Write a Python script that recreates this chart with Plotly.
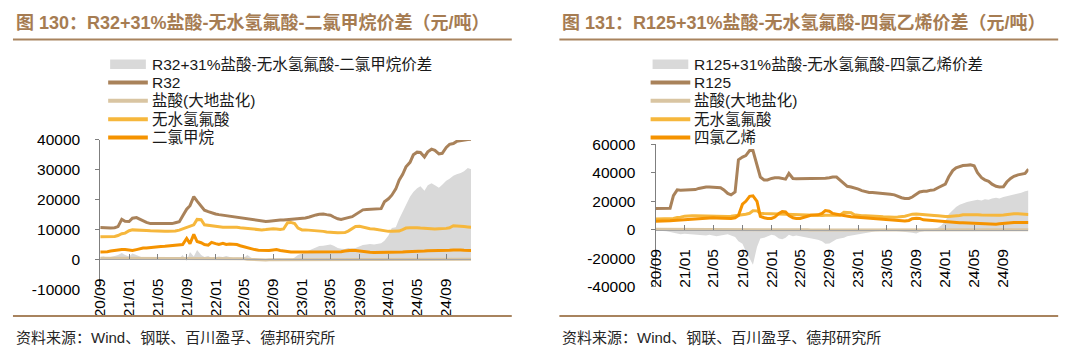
import pandas as pd
import plotly.graph_objects as go

W, H = 1080, 354

# semi-monthly observation dates (1st and 15th), Sep 2020 - Dec 2024
dates = pd.date_range("2020-09-01", "2024-12-15", freq="SMS")

# ---------------- shared raw materials (yuan/ton) ----------------
hf = [  # 无水氢氟酸
    7600, 7600, 7600, 7600, 7700, 8000, 8600, 8800,
    9600, 9900, 9900, 9900, 9800, 9700, 9600, 9500,
    9500, 9400, 9400, 9400, 9400, 9500, 9800, 10200,
    10500, 11000, 11600, 13400, 13300, 11600, 11400, 11300,
    11200, 11000, 10800, 10800, 10800, 11000, 10800, 10600,
    10500, 10300, 10100, 10000, 9900, 9900, 10000, 10200,
    10300, 10200, 10000, 10200, 12300, 12400, 12000, 10500,
    9900, 9900, 9800, 9800, 9700, 9600, 9400, 9200,
    9000, 9000, 8900, 9000, 9000, 9500, 10300, 11000,
    11100, 10800, 10500, 10300, 10200, 10000, 9800, 9500,
    9400, 9400, 9500, 9500, 10000, 10500, 10600, 10700,
    10600, 10500, 10400, 10300, 10300, 10200, 10300, 10300,
    10400, 10600, 11300, 11200, 11200, 11000, 10900, 10800]

hcl = [  # 盐酸(大地盐化)
    400, 400, 350, 350, 400, 450, 450, 400,
    400, 400, 350, 350, 300, 300, 350, 350,
    400, 400, 400, 450, 450, 400, 400, 400,
    400, 450, 450, 400, 400, 400, 350, 350,
    350, 350, 300, 300, 300, 300, 300, 250,
    200, 100, 0, -100, -100, -150, -150, -100,
    -100, -100, -100, -100, -50, -50, 0, 0,
    0, 50, 50, 50, 0, 0, 0, 50,
    50, 50, 50, 50, 100, 100, 100, 100,
    100, 100, 50, 50, 0, 0, 0, 0,
    0, 0, 50, 50, 50, 100, 100, 100,
    100, 100, 100, 100, 100, 100, 100, 100,
    100, 100, 100, 100, 100, 100, 100, 100]

# ---------------- chart 130 ----------------
r32 = [
    10700, 10600, 10500, 10500, 10600, 11000, 13400, 12800,
    12700, 13800, 14000, 13500, 12800, 12400, 12000, 12000,
    12000, 12000, 12000, 12000, 12000, 12300, 12600, 14500,
    16800, 18000, 21000, 19500, 18000, 16500, 16000, 15600,
    15200, 15000, 14800, 14700, 14500, 14200, 14000, 13800,
    13600, 13500, 13400, 13300, 13000, 12800, 12700, 12800,
    13000, 13100, 13200, 13200, 13300, 13500, 13500, 13600,
    13700, 13900, 14200, 14600, 14900, 15100, 15200, 15000,
    14800, 14200, 13600, 13400, 13600, 14000, 14300, 15000,
    15800, 16600, 16700, 16800, 16800, 16800, 17000, 19300,
    20300, 21500, 23600, 26500, 28500, 31000, 32500, 35000,
    35900, 35800, 34300, 36000, 36900, 36500, 35300, 35500,
    37500, 38500, 38800, 39500, 39800, 40000, 40100, 40200]

dcm = [  # 二氯甲烷
    2500, 2500, 2600, 2800, 3000, 3200, 3300, 3300,
    3200, 3000, 3300, 3600, 3800, 3800, 4000, 4100,
    4200, 4300, 4400, 4500, 4500, 4600, 4800, 5000,
    7000, 5300, 8400, 6000, 5600, 5000, 4800, 5700,
    5300, 5000, 5400, 5000, 5200, 5200, 5000, 4600,
    4200, 3900, 3600, 3300, 3100, 3000, 3000, 3000,
    3200, 3300, 3000, 2800, 2600, 2500, 2500, 2500,
    2500, 2500, 2500, 2600, 2600, 2500, 2500, 2500,
    2500, 2500, 2500, 2600, 2800, 3000, 3100, 3000,
    2800, 2600, 2500, 2400, 2300, 2300, 2300, 2300,
    2300, 2300, 2400, 2500, 2500, 2600, 2600, 2700,
    2800, 2800, 2800, 2900, 2900, 3000, 3000, 3000,
    3100, 3100, 3200, 3300, 3200, 3100, 3000, 3000]

spread_r32 = [
    800, 1000, 600, 800, 1200, 1500, 2200, 1500,
    1000, 2000, 1500, 1000, 600, 500, 400, 300,
    300, 200, 200, 200, 200, 300, 300, 1500,
    -500, 2500, 1000, 3200, 1500, 800, 1200, 500,
    800, 1000, 800, 1200, 800, 500, 600, 600,
    600, 1500, 600, 200, 0, -200, -300, -200,
    -100, 100, 300, 0, -500, -300, 500, 1500,
    2000, 2500, 3000, 3600, 4200, 4500, 4600, 4800,
    5000, 4600, 3800, 3600, 3500, 3800, 3600, 3800,
    4400, 4800, 5000, 5200, 5000, 5200, 5400, 6300,
    8000, 10500, 10800, 13500, 16000, 18000, 21000, 22600,
    23800, 24500, 23000, 24800, 25500, 24800, 24000, 25000,
    26300, 27000, 28000, 28500, 28900, 29500, 30600, 30200]

# ---------------- chart 131 ----------------
r125 = [
    15000, 15000, 15000, 15100, 15200, 24000, 28000, 27800,
    27800, 27800, 28000, 28200, 29000, 29500, 30000, 30000,
    30000, 30000, 29500, 28000, 25500, 24500, 26500, 49000,
    51000, 52000, 55500, 55500, 45000, 37000, 35000, 35000,
    36000, 36500, 36500, 36000, 35500, 39500, 36000, 35800,
    35800, 35800, 35800, 35800, 35800, 36000, 36000, 36200,
    36500, 37000, 37000, 35000, 32500, 30500, 30000, 29500,
    28500, 27500, 26500, 26200, 26200, 26000, 26000, 25800,
    25500, 25000, 24500, 23500, 22500, 22000, 22000, 23000,
    25000, 26500, 27000, 27000, 27800, 28000, 29500, 30500,
    32000, 37000, 41500, 43500, 44500, 45000, 45300, 45500,
    44800, 40000, 36500, 35000, 34000, 32000, 30500, 30000,
    30200, 33500, 36000, 37500, 38500, 39000, 39500, 42500]

pce = [  # 四氯乙烯
    6000, 6000, 6000, 6200, 6400, 6600, 6800, 7000,
    7200, 7400, 7600, 7800, 8000, 8200, 8400, 8400,
    8400, 8300, 8200, 8000, 7800, 8000, 8500, 10000,
    18000, 20000, 23500, 23800, 20000, 9500, 8500, 8000,
    8000, 9000, 11500, 12800, 12500, 10000, 8500, 8000,
    8000, 8500, 9500, 10200, 10200, 10500, 11500, 13500,
    13000, 11500, 11000, 10500, 10000, 9500, 9200, 9000,
    8800, 8500, 8200, 8000, 8000, 7800, 7600, 7400,
    7000, 6800, 6600, 6400, 6200, 6200, 6600, 7800,
    8200, 8000, 7000, 6800, 6600, 6500, 6000, 5800,
    5500, 5300, 5200, 5000, 5000, 5000, 4900, 4800,
    4700, 4500, 4200, 4000, 4000, 4000, 4000, 4200,
    4600, 4800, 5000, 5200, 5200, 5300, 5200, 5200]

spread_r125 = [
    -500, -500, -800, -1000, -1500, -2000, -2500, -3000,
    -2800, -3000, -3500, -3800, -4000, -4200, -4000, -3500,
    -4000, -4500, -4000, -3500, -3000, -4000, -5000, -8000,
    -9800, -15000, -20000, -24500, -12000, -6000, -5500, -4500,
    -3500, -4000, -6000, -6500, -5500, -3500, -4500, -4000,
    -4500, -5000, -5500, -6000, -6500, -7000, -8000, -9800,
    -9500, -8000, -6500, -6000, -5500, -4500, -4000, -3500,
    -3000, -2500, -2000, -1500, -1200, -1000, -800, -600,
    -500, -500, -600, -800, -1000, -1200, -1500, -2000,
    -2500, -1500, -1000, -500, 0, 500, 1500, 3000,
    6000, 11000, 14000, 16000, 17500, 18500, 19500, 20000,
    20500, 21000, 20500, 21500, 21000, 22000, 22500, 22000,
    23000, 23500, 24000, 24500, 25500, 26000, 27000, 27500]

left_names = ["R32+31%盐酸-无水氢氟酸-二氯甲烷价差", "R32", "盐酸(大地盐化)", "无水氢氟酸", "二氯甲烷"]
right_names = ["R125+31%盐酸-无水氢氟酸-四氯乙烯价差", "R125", "盐酸(大地盐化)", "无水氢氟酸", "四氯乙烯"]
left_title = "图 130：R32+31%盐酸-无水氢氟酸-二氯甲烷价差（元/吨）"
right_title = "图 131：R125+31%盐酸-无水氢氟酸-四氯乙烯价差（元/吨）"
source = "资料来源：Wind、钢联、百川盈孚、德邦研究所"
left_yticks = [-10000, 0, 10000, 20000, 30000, 40000]
right_yticks = [-40000, -20000, 0, 20000, 40000, 60000]

colors = ["#D9D9D9", "#A9825A", "#D9C5A2", "#F6B73C", "#F59300"]
FONT = "Liberation Sans, Arial, Noto Sans CJK SC, sans-serif"


def px(x):
    return x / W


def py(y):
    return 1 - y / H


fig = go.Figure()

for xa, ya, spread, main, third in [("x", "y", spread_r32, r32, dcm), ("x2", "y2", spread_r125, r125, pce)]:
    fig.add_trace(go.Scatter(x=dates, y=spread, mode="lines", fill="tozeroy",
                             fillcolor=colors[0], line=dict(width=0, color=colors[0]),
                             xaxis=xa, yaxis=ya, showlegend=False))
    for series, c in [(main, colors[1]), (hcl, colors[2]), (hf, colors[3]), (third, colors[4])]:
        fig.add_trace(go.Scatter(x=dates, y=series, mode="lines",
                                 line=dict(width=3, color=c),
                                 xaxis=xa, yaxis=ya, showlegend=False))

tickfont = dict(family=FONT, size=15.5, color="#000000")


def xaxis_cfg(x0, x1, zero_y):
    return dict(domain=[px(x0), px(x1)], anchor="free", position=py(zero_y),
                type="date", range=[dates[0], dates[-1]],
                tick0="2020-09-01", dtick="M4", tickformat="%y/%m", tickangle=-90,
                ticks="inside", ticklen=5, tickcolor="#808080",
                showline=True, linecolor="#A6A6A6", linewidth=1,
                showgrid=False, zeroline=False, tickfont=tickfont,
                ticklabelstandoff=12)


def yaxis_cfg(ytop, ybot, rng, ticks, anchor):
    return dict(domain=[py(ybot), py(ytop)], range=rng, anchor=anchor,
                tickvals=ticks, ticktext=[str(v) for v in ticks],
                ticks="outside", ticklen=4, tickcolor="#7F7F7F",
                showline=True, linecolor="#7F7F7F", linewidth=1,
                showgrid=False, zeroline=False, tickfont=tickfont,
                ticklabelstandoff=12)


fig.update_layout(
    width=W, height=H, margin=dict(l=0, r=0, t=0, b=0),
    paper_bgcolor="white", plot_bgcolor="white", showlegend=False,
    xaxis=xaxis_cfg(92, 466, 263),
    yaxis=yaxis_cfg(137.5, 294.5, [-10000, 40000], left_yticks, "x"),
    xaxis2=xaxis_cfg(652, 1028, 232),
    yaxis2=yaxis_cfg(142, 292, [-40000, 60000], right_yticks, "x2"),
)

shapes = []
annotations = []
legend_rows = [58, 77.25, 96.5, 115.75, 135]
for x_sym, names in [(100, left_names), (647, right_names)]:
    for i, (name, yc) in enumerate(zip(names, legend_rows)):
        if i == 0:
            shapes.append(dict(type="rect", xref="paper", yref="paper",
                               x0=px(x_sym + 2), x1=px(x_sym + 38), y0=py(yc + 5), y1=py(yc - 5),
                               fillcolor=colors[0], line=dict(width=0)))
        else:
            shapes.append(dict(type="line", xref="paper", yref="paper",
                               x0=px(x_sym), x1=px(x_sym + 40), y0=py(yc), y1=py(yc),
                               line=dict(color=colors[i], width=4)))
        annotations.append(dict(xref="paper", yref="paper", x=px(x_sym + 42), y=py(yc),
                                xanchor="left", yanchor="middle", showarrow=False, text=name,
                                font=dict(family=FONT, size=15.5, color="#1A1A1A")))

for x0, x1, title in [(4, 507, left_title), (555, 1058, right_title)]:
    shapes.append(dict(type="line", xref="paper", yref="paper", x0=px(x0), x1=px(x1),
                       y0=py(32), y1=py(32), line=dict(color="#A8835E", width=2)))
    shapes.append(dict(type="line", xref="paper", yref="paper", x0=px(x0), x1=px(x1),
                       y0=py(322.5), y1=py(322.5), line=dict(color="#A8835E", width=2)))
    annotations.append(dict(xref="paper", yref="paper", x=px(x0 + 1), y=py(14),
                            xanchor="left", yanchor="middle", showarrow=False,
                            text="<b>" + title + "</b>",
                            font=dict(family=FONT, size=18, color="#A67C52")))
    annotations.append(dict(xref="paper", yref="paper", x=px(x0 + 1), y=py(345),
                            xanchor="left", yanchor="middle", showarrow=False, text=source,
                            font=dict(family=FONT, size=15, color="#262626")))

fig.update_layout(shapes=shapes, annotations=annotations)
fig.write_html("out.html")
